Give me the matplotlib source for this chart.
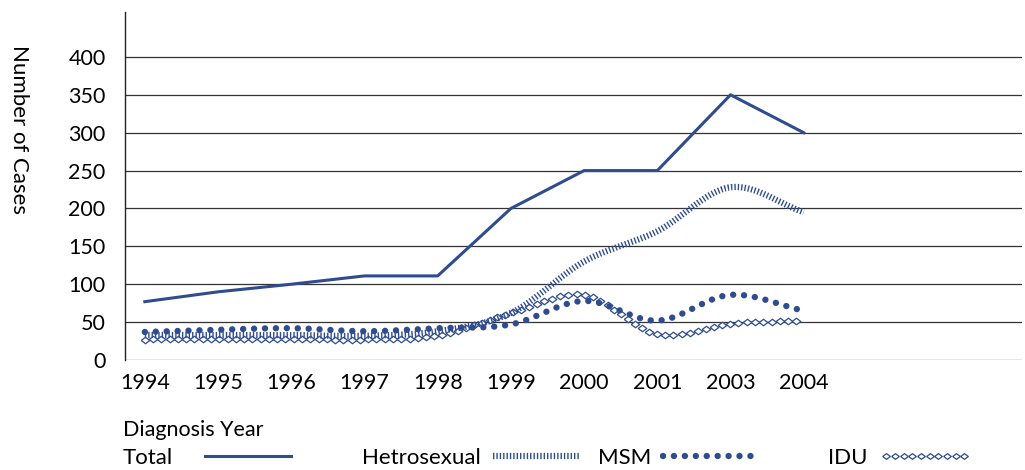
import numpy as np
import matplotlib
matplotlib.use('Agg')
import matplotlib.pyplot as plt
from matplotlib.lines import Line2D

years = ['1994', '1995', '1996', '1997', '1998', '1999', '2000', '2001', '2003', '2004']
total = [77, 90, 100, 111, 111, 200, 250, 250, 350, 300]
hetero = [33, 33, 33, 32, 38, 62, 130, 170, 228, 195]
msm = [37, 40, 42, 38, 42, 47, 78, 52, 86, 65]
idu = [27, 28, 28, 27, 32, 62, 86, 34, 48, 52]

BLUE = '#2f4c8f'
plt.rcParams['font.family'] = ['Lato', 'DejaVu Sans']


def smooth(vals, n=40):
    # catmull-rom curve through the points, like excel's smoothed line
    x = np.arange(len(vals), dtype=float)
    y = np.asarray(vals, dtype=float)
    px = np.concatenate([[2 * x[0] - x[1]], x, [2 * x[-1] - x[-2]]])
    py = np.concatenate([[2 * y[0] - y[1]], y, [2 * y[-1] - y[-2]]])
    xs, ys = [], []
    t = np.linspace(0, 1, n, endpoint=False)
    for i in range(1, len(px) - 2):
        for p, out in ((px, xs), (py, ys)):
            p0, p1, p2, p3 = p[i - 1], p[i], p[i + 1], p[i + 2]
            out.append(0.5 * (2 * p1 + (-p0 + p2) * t + (2 * p0 - 5 * p1 + 4 * p2 - p3) * t ** 2
                              + (-p0 + 3 * p1 - 3 * p2 + p3) * t ** 3))
    xs.append([x[-1]])
    ys.append([y[-1]])
    return np.concatenate(xs), np.concatenate(ys)


# flattened diamond, a bit wider than tall
flat_diamond = [(-1, 0), (0, 0.75), (1, 0), (0, -0.75), (-1, 0)]

hatch_style = dict(color=BLUE, lw=4.5, linestyle=(0, (0.22, 0.32)), dash_capstyle='butt')
dot_style = dict(color=BLUE, lw=4.6, linestyle=(0, (0.01, 1.7)), dash_capstyle='round')
diamond_style = dict(linestyle='none', marker=flat_diamond, markersize=6.2, markerfacecolor='white',
                     markeredgecolor=BLUE, markeredgewidth=0.9)

fig = plt.figure(figsize=(10.25, 4.7), dpi=100)
ax = fig.add_axes([0.122, 0.234, 0.875, 0.74])

x = np.arange(len(years))
ax.plot(x, total, '-', color=BLUE, lw=2.2, zorder=5)

hx, hy = smooth(hetero)
ax.plot(hx, hy, zorder=4, **hatch_style)

mx, my = smooth(msm)
ax.plot(mx, my, zorder=4, **dot_style)

ix, iy = smooth(idu, n=300)
ax.plot(ix, iy, markevery=0.0086, zorder=3, **diamond_style)

ax.set_xlim(-0.27, 11.98)
ax.set_ylim(0, 459)
ax.set_yticks(range(0, 401, 50))
ax.set_xticks(x)
ax.set_xticklabels(years)
ax.tick_params(length=0, labelsize=15.5, colors='black')
ax.tick_params(axis='x', pad=9)
ax.tick_params(axis='y', pad=14)
for yv in range(0, 401, 50):
    ax.axhline(yv, color='#333333', lw=0.9, zorder=1)
for s in ['top', 'right', 'bottom']:
    ax.spines[s].set_visible(False)
ax.spines['left'].set_color('#222222')
ax.spines['left'].set_linewidth(1.0)

fig.text(0.009, 0.905, 'Number of Cases', rotation=-90, fontsize=16, va='top', ha='left')
fig.text(0.12, 0.085, 'Diagnosis Year', fontsize=15.5, va='center', ha='left')

# legend row, one legend per series so the gaps match
legend_diamond = dict(diamond_style, markersize=5.5)
entries = [
    (Line2D([], [], color=BLUE, lw=2.2), 'Total', 123, 1, 3.85, 1.45),
    (Line2D([], [], **hatch_style), 'Hetrosexual', 362, 1, 3.9, 0.55),
    (Line2D([], [], **dot_style), 'MSM', 598, 1, 4.2, 0.55),
    (Line2D([], [], **legend_diamond), 'IDU', 828, 10, 4.1, 0.55),
]
for h, lab, xpx, npts, hlen, pad in entries:
    fig.legend([h], [lab], loc='center left', bbox_to_anchor=(xpx / 1025, 0.025), frameon=False,
               markerfirst=False, fontsize=16, handlelength=hlen, handletextpad=pad,
               numpoints=npts, borderpad=0, borderaxespad=0)

fig.savefig('out.png', dpi=100)
